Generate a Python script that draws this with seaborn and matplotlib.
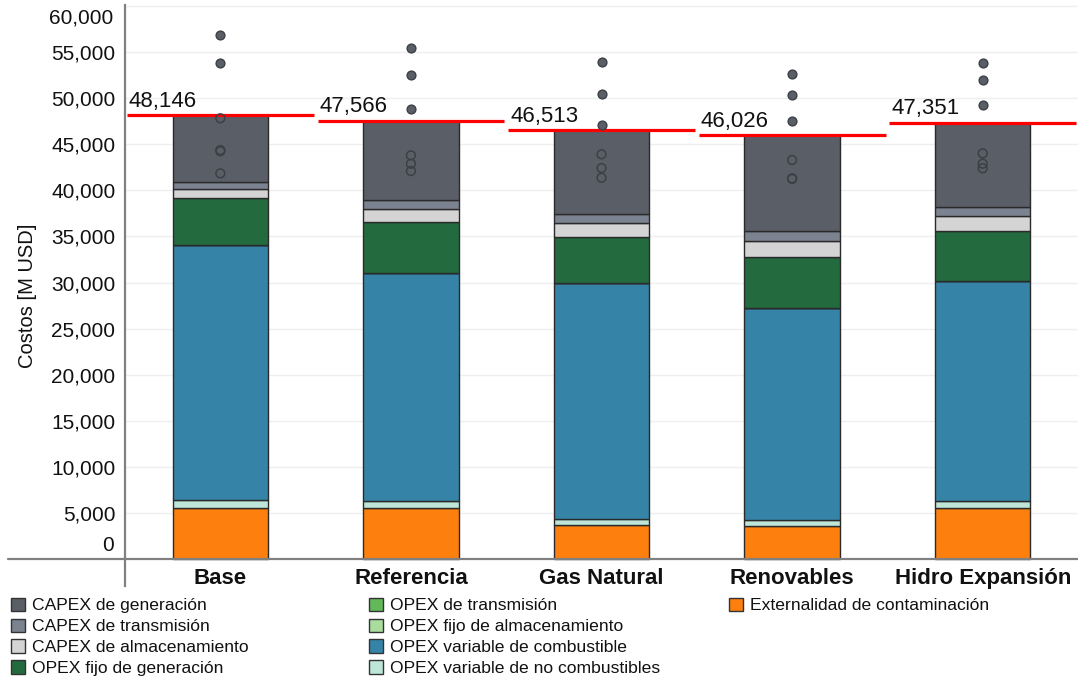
import numpy as np
import pandas as pd
import matplotlib
matplotlib.use('Agg')
import matplotlib.pyplot as plt
import matplotlib.transforms as mtransforms
from matplotlib.patches import Patch
import seaborn as sns

## scenarios
escenarios = ['Base', 'Referencia', 'Gas Natural', 'Renovables', 'Hidro Expansión']

## cost components, bottom of the stack first [M USD]
externalidad = [5550, 5510, 3700, 3620, 5510]
opex_var_no_comb = [850, 795, 650, 620, 795]
opex_var_comb = [27730, 24785, 25650, 23040, 23915]
opex_fijo_alm = [0, 0, 0, 0, 0]
opex_trans = [0, 0, 0, 0, 0]
opex_fijo_gen = [5000, 5430, 4925, 5515, 5430]
capex_alm = [980, 1420, 1565, 1695, 1560]
capex_trans = [790, 975, 980, 1090, 1020]
capex_gen = [7246, 8651, 9043, 10446, 9121]

totales = [48146, 47566, 46513, 46026, 47351]

## points above/inside the bars
puntos_llenos = {'Base': [56850, 53880],
                 'Referencia': [55510, 52500, 48800],
                 'Gas Natural': [53950, 50440, 47070],
                 'Renovables': [52610, 50370, 47500],
                 'Hidro Expansión': [53880, 51960, 49240]}
puntos_vacios = {'Base': [47830, 44380, 44250, 41850],
                 'Referencia': [43800, 42900, 42100],
                 'Gas Natural': [43920, 42430, 41380],
                 'Renovables': [43300, 41310, 41250],
                 'Hidro Expansión': [44020, 42900, 42400]}

componentes = [
    ('Externalidad de contaminación', externalidad, '#fd7f0d'),
    ('OPEX variable de no combustibles', opex_var_no_comb, '#bde5d8'),
    ('OPEX variable de combustible', opex_var_comb, '#3584a8'),
    ('OPEX fijo de almacenamiento', opex_fijo_alm, '#a9dd9e'),
    ('OPEX de transmisión', opex_trans, '#63b85a'),
    ('OPEX fijo de generación', opex_fijo_gen, '#236a3e'),
    ('CAPEX de almacenamiento', capex_alm, '#d4d4d4'),
    ('CAPEX de transmisión', capex_trans, '#7b8290'),
    ('CAPEX de generación', capex_gen, '#5a5e66'),
]

sns.set_theme(style='white')
plt.rcParams['font.family'] = ['Liberation Sans', 'DejaVu Sans']

fig = plt.figure(figsize=(10.78, 6.8), dpi=100)
ax = fig.add_axes([0.116, 0.138, 0.884, 0.855])

## stacked bars
bottom = np.zeros(len(escenarios))
for nombre, vals, col in componentes:
    df = pd.DataFrame({'escenario': escenarios, 'valor': vals})
    sns.barplot(data=df, x='escenario', y='valor', order=escenarios, color=col,
                saturation=1, width=0.5, bottom=bottom, edgecolor='#2a2a2a',
                linewidth=1, errorbar=None, ax=ax, zorder=2)
    bottom = bottom + np.array(vals)

## total lines and labels
for i, tot in enumerate(totales):
    ax.hlines(tot, i - 0.49, i + 0.49, color='#ff0000', lw=2.3, zorder=4)
    ax.text(i - 0.48, tot + 350, f'{tot:,}', fontsize=16, color='#111111',
            ha='left', va='bottom', zorder=5)

## points
for esc in escenarios:
    xi = escenarios.index(esc)
    llenos = puntos_llenos[esc]
    vacios = puntos_vacios[esc]
    sns.scatterplot(x=[xi] * len(llenos), y=llenos, color='#5a5e66',
                    edgecolor='#3c4046', linewidth=1, s=40, ax=ax, zorder=6)
    ax.scatter([xi] * len(vacios), vacios, facecolors='none',
               edgecolors='#3c4046', linewidths=1.1, s=40, zorder=6)

ax.set_xlim(-0.5, 4.5)
ax.set_ylim(-2950, 60150)
yt = list(range(5000, 60001, 5000))
ax.set_yticks(yt)
ax.set_yticklabels([f'{v:,}' if v < 60000 else '' for v in yt], fontsize=15, color='#111111')
## end labels sit slightly inside the axis range, as in the original
ytrans = mtransforms.blended_transform_factory(ax.transAxes, ax.transData)
ax.text(-0.012, 1500, '0', fontsize=15, color='#111111', ha='right', va='center',
        transform=ytrans)
ax.text(-0.012, 58700, '60,000', fontsize=15, color='#111111', ha='right', va='center',
        transform=ytrans)
ax.tick_params(axis='y', length=0, pad=7)
ax.grid(axis='y', color='#efefef', lw=1, zorder=0)
ax.set_axisbelow(True)

ax.set_xticks(range(len(escenarios)))
ax.set_xticklabels(escenarios, fontsize=16, fontweight='bold', color='#111111')
ax.tick_params(axis='x', length=0, pad=-13)
ax.set_xlabel('')
ax.set_ylabel('Costos [M USD]', fontsize=14.5, color='#111111')
ax.yaxis.set_label_coords(-0.092, 0.5)

for s in ['top', 'right', 'bottom']:
    ax.spines[s].set_visible(False)
ax.spines['left'].set_color('#808080')
ax.spines['left'].set_linewidth(1.6)

## baseline at zero extending left of the axis
ax.plot([-0.123, 1.0], [0, 0], color='#808080', lw=1.6, clip_on=False,
        transform=ytrans, zorder=3)

## legend in three columns
col_map = {n: c for n, v, c in componentes}
columnas = [
    (['CAPEX de generación', 'CAPEX de transmisión', 'CAPEX de almacenamiento',
      'OPEX fijo de generación'], 0.010),
    (['OPEX de transmisión', 'OPEX fijo de almacenamiento', 'OPEX variable de combustible',
      'OPEX variable de no combustibles'], 0.342),
    (['Externalidad de contaminación'], 0.676),
]
for nombres, x0 in columnas:
    handles = [Patch(facecolor=col_map[n], edgecolor='#333333', linewidth=1) for n in nombres]
    leg = fig.legend(handles, nombres, loc='upper left', bbox_to_anchor=(x0, 0.121),
                     frameon=False, fontsize=12.6, handlelength=0.8, handleheight=0.8,
                     handletextpad=0.4, labelspacing=0.29, borderpad=0, borderaxespad=0)
    for t in leg.get_texts():
        t.set_color('#111111')

fig.savefig('out.png', dpi=100)
